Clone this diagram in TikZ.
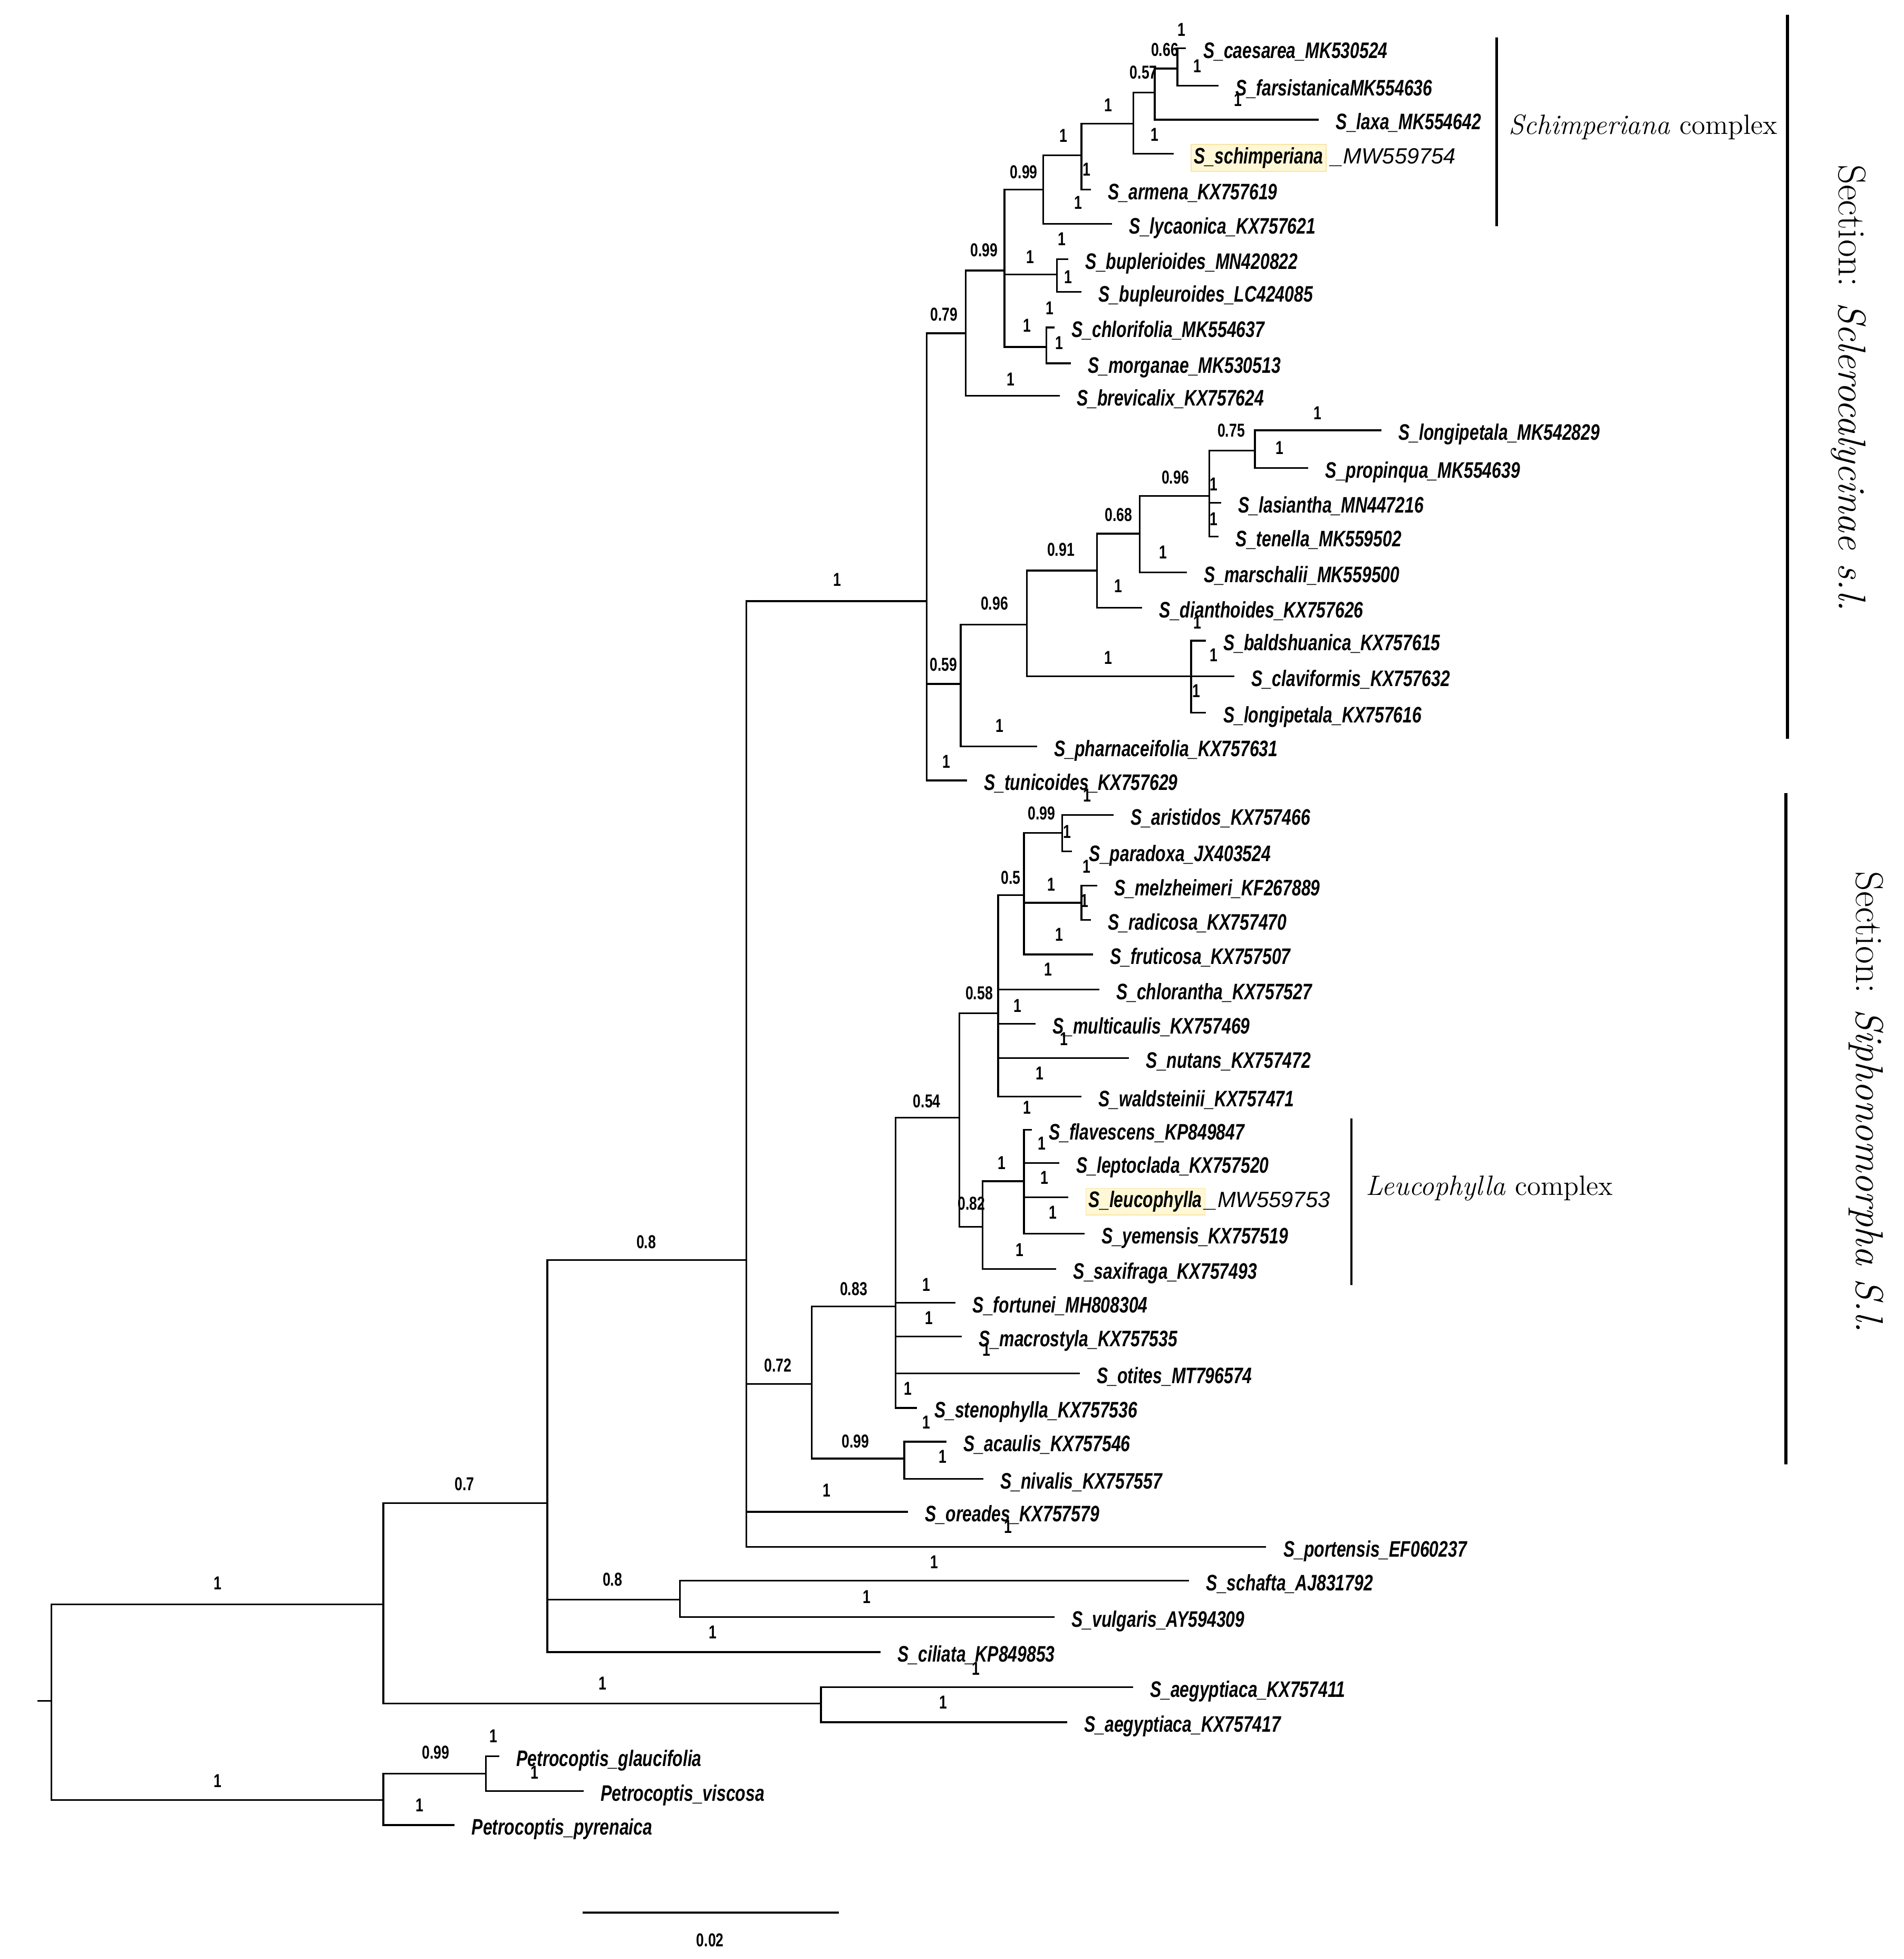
\documentclass[tikz,border=0pt]{standalone}
\usepackage{fontspec}
\newfontfamily\treefont[FakeStretch=0.75]{Liberation Sans}
\newfontfamily\accfont{Liberation Sans}
\definecolor{hl}{RGB}{255,248,214}
\definecolor{hlrim}{RGB}{250,228,165}
\newcommand{\hlbox}[1]{{\setlength{\fboxsep}{1.2pt}\setlength{\fboxrule}{0.3pt}\fcolorbox{hlrim}{hl}{#1}}}
\newcommand{\accno}[1]{{\accfont\mdseries\itshape\fontsize{10}{12}\selectfont #1}}

\begin{document}
\begin{tikzpicture}[x=0.02cm,y=-0.02cm,line width=0.8pt,
  taxon/.style={anchor=base west,inner sep=0pt,xshift=0.26cm,yshift=-4.5pt,
    font=\treefont\bfseries\itshape\fontsize{10.2}{12}\selectfont},
  pp/.style={inner sep=0pt,font=\treefont\bfseries\fontsize{8.5}{10}\selectfont},
  grp/.style={anchor=base west,inner sep=0pt,font=\fontsize{12.7}{14}\selectfont},
  sect/.style={rotate=-90,inner sep=0pt,font=\fontsize{17.6}{20}\selectfont}]
%\draw[thin,gray,step=100] (0,0) grid (1520,1564);
\useasboundingbox (0,0) rectangle (1520,1564);

% inner nodes
\foreach \n/\x/\y in {nroot/41/1358, ningr/306/1281, npet/306/1437, npg/388/1416,
  nb/437/1200, naeg/655.5/1360, nc/596/1006, nsv/543/1277,
  nd/740/480, nab/648/1105, ne/771/266, nf/767/546,
  nl/802/216, nm/833/151.4, nn/844/219, no/835.5/277,
  np/863.5/124, nq/905/98.8, nr/922/74, ns/940/54.8,
  ng/820/498.7, nh/876/455.5, ni/910/426, nj/965.5/396, nk/1002/359.7, nbal/951/540,
  nu/715/1043, nac/722/1164.5, nt/766/892.3, nv/797/809, nw/817.6/714.7,
  nx/848/665, ny/863.5/720.7, nz/784.5/979.3, naa/817.6/943}
  \coordinate (\n) at (\x,\y);

% tips
\foreach \n/\x/\y/\lab in {caes/947/38.6/S\_caesarea\_MK530524,
  fars/973/68.3/S\_farsistanicaMK554636, laxa/1053/95.6/S\_laxa\_MK554642,
  arme/871/151.4/S\_armena\_KX757619, lyca/888/178.7/S\_lycaonica\_KX757621,
  bupa/853/207/S\_buplerioides\_MN420822, bupb/863.5/233/S\_bupleuroides\_LC424085,
  chlf/842/261.5/S\_chlorifolia\_MK554637, morg/855/290/S\_morganae\_MK530513,
  brev/846/316/S\_brevicalix\_KX757624, lpmk/1103/343.6/S\_longipetala\_MK542829,
  prop/1044.6/373.6/S\_propinqua\_MK554639, lasi/975/401.5/S\_lasiantha\_MN447216,
  tene/973/428.4/S\_tenella\_MK559502, mars/947.6/457/S\_marschalii\_MK559500,
  dian/912/485.3/S\_dianthoides\_KX757626, bald/963/511.5/S\_baldshuanica\_KX757615,
  clav/985.6/540/S\_claviformis\_KX757632, lpkx/963/569/S\_longipetala\_KX757616,
  phar/828/595.9/S\_pharnaceifolia\_KX757631, tuni/772/623/S\_tunicoides\_KX757629,
  aris/889/650.7/S\_aristidos\_KX757466, para/856/679.7/S\_paradoxa\_JX403524,
  melz/876/707/S\_melzheimeri\_KF267889, radi/871/734.5/S\_radicosa\_KX757470,
  frut/872.6/762/S\_fruticosa\_KX757507, chla/877.6/790/S\_chlorantha\_KX757527,
  mult/826.7/817.4/S\_multicaulis\_KX757469, nuta/901.5/844.7/S\_nutans\_KX757472,
  wald/863.4/875.5/S\_waldsteinii\_KX757471, flav/823.7/902/S\_flavescens\_KP849847,
  lept/845.6/928.5/S\_leptoclada\_KX757520, yeme/866/985/S\_yemensis\_KX757519,
  saxi/843.4/1013/S\_saxifraga\_KX757493, fort/763/1040/S\_fortunei\_MH808304,
  macr/768/1067/S\_macrostyla\_KX757535, otit/862/1096.4/S\_otites\_MT796574,
  sten/732.3/1124/S\_stenophylla\_KX757536, acau/755.7/1151/S\_acaulis\_KX757546,
  niva/785/1180.7/S\_nivalis\_KX757557, orea/725/1207/S\_oreades\_KX757579,
  port/1011/1235/S\_portensis\_EF060237, scha/949.5/1262/S\_schafta\_AJ831792,
  vulg/842/1291/S\_vulgaris\_AY594309, cili/703/1319/S\_ciliata\_KP849853,
  aega/904.5/1347/S\_aegyptiaca\_KX757411, aegb/852/1375/S\_aegyptiaca\_KX757417,
  glau/398.6/1402/Petrocoptis\_glaucifolia, visc/466/1430/Petrocoptis\_viscosa,
  pyre/363/1457/Petrocoptis\_pyrenaica}
  {\coordinate (\n) at (\x,\y);
   \node[taxon] (t\n) at (\n) {\lab};}

\coordinate (schi) at (937,122.8);
\node[taxon] (tschi) at (schi) {\hlbox{S\_schimperiana} \accno{\_MW559754}};
\coordinate (leuc) at (853,956);
\node[taxon] (tleuc) at (leuc) {\hlbox{S\_leucophylla}\accno{\_MW559753}};

% branches
\coordinate (stub) at (30,1358);
\draw (stub) -- (nroot);
\foreach \p/\c in {nroot/ningr, nroot/npet, npet/npg, npet/pyre, npg/glau, npg/visc,
  ningr/nb, ningr/naeg, naeg/aega, naeg/aegb, nb/nc, nb/nsv, nb/cili, nsv/scha, nsv/vulg,
  nc/nd, nc/nab, nc/orea, nc/port, nd/ne, nd/nf, nd/tuni, ne/nl, ne/brev,
  nl/nm, nl/nn, nl/no, nm/np, nm/lyca, np/nq, np/arme, nq/nr, nq/schi, nr/ns, nr/laxa,
  ns/caes, ns/fars, nn/bupa, nn/bupb, no/chlf, no/morg,
  nf/ng, nf/phar, ng/nh, ng/nbal, nh/ni, nh/dian, ni/nj, ni/mars, nj/nk, nj/lasi, nj/tene,
  nk/lpmk, nk/prop, nbal/bald, nbal/clav, nbal/lpkx,
  nab/nu, nab/nac, nu/nt, nu/fort, nu/macr, nu/otit, nu/sten, nac/acau, nac/niva,
  nt/nv, nt/nz, nv/nw, nv/chla, nv/mult, nv/nuta, nv/wald, nw/nx, nw/ny, nw/frut,
  nx/aris, nx/para, ny/melz, ny/radi, nz/naa, nz/saxi,
  naa/flav, naa/lept, naa/leuc, naa/yeme}
  \draw (\p) |- (\c);

% posterior probabilities
\foreach \x/\y/\lab [count=\i] in {943.5/23.6/1, 930/39.7/0.66, 956/52.6/1, 913/58/0.57,
  988.4/79.5/1, 884.8/83.7/1, 922/107.4/1, 849/108.5/1, 817.5/137.4/0.99, 867.5/135.3/1,
  861/162/1, 785.8/199.7/0.99, 848/191/1, 822.6/205/1, 853/221/1, 753.7/251/0.79,
  838/245.9/1, 820/259.8/1, 845.6/273.8/1, 807/302.8/1, 1052/329.6/1, 983/343.5/0.75,
  1021.5/357.5/1, 938.4/381/0.96, 969/386.5/1, 969/414.5/1, 893/411/0.68, 928.7/441/1,
  847/439/0.91, 893/468/1, 668.4/463/1, 794/481.7/0.96, 956/497/1, 885/525/1, 969/523/1,
  753.3/530.6/0.59, 955/551.8/1, 798/579.5/1, 755.5/608/1, 868/635/1,
  831.7/649.5/0.99, 852/664/1, 867.5/691.8/1, 807/700.7/0.5, 839.4/706/1, 866/719/1,
  845.6/746/1, 837/774/1, 781.8/793/0.58, 812.3/803/1, 849.7/829.5/1, 830.3/857/1,
  820/884/1, 740/879/0.54, 832/913/1, 799.7/928.5/1, 834/940/1, 775.7/961/0.82,
  840.5/968/1, 814/998/1, 681.6/1029/0.83, 739.7/1025.5/1, 741.6/1052/1, 787.8/1077.5/1,
  621/1090/0.72, 724.7/1108.6/1, 739.7/1135.5/1, 683/1150.5/0.99, 752.5/1163/1,
  660/1190/1, 805/1219/1, 746/1247/1, 692/1275/1, 569/1303/1, 779/1332/1, 753/1359/1,
  516/991.5/0.8, 371/1185/0.7, 489/1261/0.8, 174/1264/1, 481/1344/1, 174/1422/1,
  348/1399/0.99, 394/1386/1, 427/1415/1, 335/1441/1}
  \node[pp] (pp\i) at (\x,\y) {\lab};

% scale
\coordinate (sbl) at (465,1527);
\coordinate (sbr) at (670,1527);
\draw (sbl) -- (sbr);
\node[pp] (sbt) at (567,1549) {0.02};

% groups
\coordinate (cs1) at (1195,30);
\coordinate (cs2) at (1195,180.5);
\draw[line width=1pt] (cs1) -- (cs2);
\node[grp] (gschi) at (1204,107) {\textit{Schimperiana} complex};
\coordinate (cl1) at (1079,893);
\coordinate (cl2) at (1079,1026);
\draw[line width=1pt] (cl1) -- (cl2);
\node[grp] (gleuc) at (1090,954) {\textit{Leucophylla} complex};
\coordinate (ss1) at (1427,12);
\coordinate (ss2) at (1427,590);
\draw[line width=1.5pt] (ss1) -- (ss2);
\node[sect] (sscl) at (1476,310) {Section: \textit{Sclerocalycinae s.l.}};
\coordinate (sp1) at (1426,633);
\coordinate (sp2) at (1426,1169);
\draw[line width=1.5pt] (sp1) -- (sp2);
\node[sect] (ssip) at (1490,880) {Section: \textit{Siphonomorpha S.l.}};

\end{tikzpicture}
\end{document}
